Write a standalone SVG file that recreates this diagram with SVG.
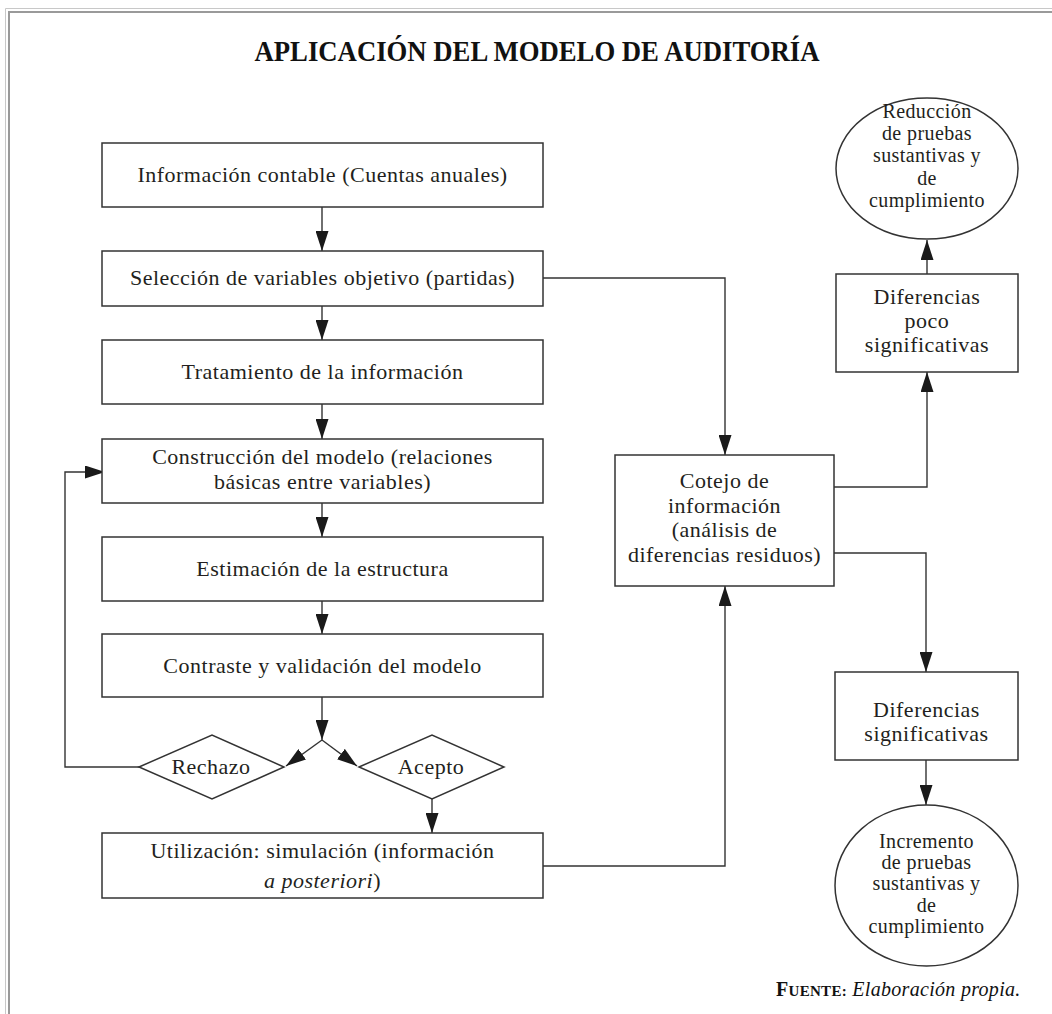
<svg xmlns="http://www.w3.org/2000/svg" width="1052" height="1014" viewBox="0 0 1052 1014">
<defs>
<marker id="ah" markerUnits="userSpaceOnUse" markerWidth="20" markerHeight="13" refX="20" refY="6.5" orient="auto">
<path d="M0,0 L20,6.5 L0,13 z" fill="#1a1a1a"/>
</marker>
<style>
.box{fill:#fff;stroke:#333;stroke-width:1.5}
.t{font-family:"Liberation Serif","Times New Roman",serif;font-size:22px;fill:#231f20;text-anchor:middle;letter-spacing:0.5px}
.c{font-family:"Liberation Serif","Times New Roman",serif;font-size:20px;fill:#231f20;text-anchor:middle;letter-spacing:0.4px}
.ln{fill:none;stroke:#333;stroke-width:1.4;marker-end:url(#ah)}
</style>
</defs>
<rect width="1052" height="1014" fill="#fff"/>
<g id="border">
<path d="M5.5,1014 V8.5 H1052" fill="none" stroke="#c8c8c8" stroke-width="1"/>
<path d="M9,1014 V12 H1052" fill="none" stroke="#9a9a9a" stroke-width="2"/>
</g>
<text x="537" y="61" font-family="Liberation Serif,'Times New Roman',serif" font-size="29" font-weight="bold" text-anchor="middle" fill="#111" textLength="565" lengthAdjust="spacingAndGlyphs">APLICACIÓN DEL MODELO DE AUDITORÍA</text>

<g id="connectors">
<path class="ln" d="M322,207 V251"/>
<path class="ln" d="M322,306 V340"/>
<path class="ln" d="M322,404 V439"/>
<path class="ln" d="M322,503 V537"/>
<path class="ln" d="M322,601 V634"/>
<path class="ln" d="M322,697 V740"/>
<path class="ln" d="M322,740 L286,766"/>
<path class="ln" d="M322,740 L357,766"/>
<path class="ln" d="M432,799 V833"/>
<path class="ln" d="M139,767 H65 V472 H105"/>
<path class="ln" d="M543,278 H725 V455"/>
<path class="ln" d="M543,866 H725 V586"/>
<path class="ln" d="M834,487 H927 V372"/>
<path class="ln" d="M927,274 V240"/>
<path class="ln" d="M834,553 H926 V672"/>
<path class="ln" d="M926,760 V805"/>
</g>

<g id="n1"><rect class="box" x="102" y="143" width="441" height="64"/><text class="t" x="322.5" y="182">Información contable (Cuentas anuales)</text></g>
<g id="n2"><rect class="box" x="102" y="251" width="441" height="55"/><text class="t" x="322.5" y="285">Selección de variables objetivo (partidas)</text></g>
<g id="n3"><rect class="box" x="102" y="340" width="441" height="64"/><text class="t" x="322.5" y="379">Tratamiento de la información</text></g>
<g id="n4"><rect class="box" x="102" y="439" width="441" height="64"/><text class="t" x="322.5" y="464">Construcción del modelo (relaciones</text><text class="t" x="322.5" y="489">básicas entre variables)</text></g>
<g id="n5"><rect class="box" x="102" y="537" width="441" height="64"/><text class="t" x="322.5" y="576">Estimación de la estructura</text></g>
<g id="n6"><rect class="box" x="102" y="634" width="441" height="63"/><text class="t" x="322.5" y="673">Contraste y validación del modelo</text></g>
<g id="rechazo"><polygon class="box" points="139,767 212,735 284,767 212,799" stroke-width="1.3"/><text class="t" x="211" y="774">Rechazo</text></g>
<g id="acepto"><polygon class="box" points="359,767 432,735 504,767 432,799" stroke-width="1.3"/><text class="t" x="431" y="774">Acepto</text></g>
<g id="n7"><rect class="box" x="102" y="833" width="441" height="65"/><text class="t" x="322.5" y="858">Utilización: simulación (información</text><text class="t" x="322.5" y="888"><tspan font-style="italic">a posteriori</tspan>)</text></g>
<g id="cotejo"><rect class="box" x="615" y="455" width="219" height="131"/>
<text class="t" x="724.5" y="488">Cotejo de</text><text class="t" x="724.5" y="513">información</text><text class="t" x="724.5" y="537">(análisis de</text><text class="t" x="724.5" y="562">diferencias residuos)</text></g>
<g id="poco"><rect class="box" x="836" y="274" width="182" height="98"/>
<text class="t" x="927" y="304">Diferencias</text><text class="t" x="927" y="328">poco</text><text class="t" x="927" y="352">significativas</text></g>
<g id="reduccion"><ellipse class="box" cx="927" cy="168.5" rx="91" ry="70.5" stroke-width="1.3"/>
<text class="c" x="927" y="118">Reducción</text><text class="c" x="927" y="140">de pruebas</text><text class="c" x="927" y="162">sustantivas y</text><text class="c" x="927" y="185">de</text><text class="c" x="927" y="207">cumplimiento</text></g>
<g id="signif"><rect class="box" x="835" y="672" width="183" height="88"/>
<text class="t" x="926.5" y="717">Diferencias</text><text class="t" x="926.5" y="741">significativas</text></g>
<g id="incremento"><ellipse class="box" cx="926.5" cy="885.5" rx="91.5" ry="80.5" stroke-width="1.3"/>
<text class="c" x="926.5" y="848">Incremento</text><text class="c" x="926.5" y="869">de pruebas</text><text class="c" x="926.5" y="890">sustantivas y</text><text class="c" x="926.5" y="912">de</text><text class="c" x="926.5" y="933">cumplimiento</text></g>
<text x="776" y="996" font-family="Liberation Serif,'Times New Roman',serif" fill="#111" letter-spacing="0.3"><tspan font-weight="bold" font-size="20">F</tspan><tspan font-weight="bold" font-size="15">UENTE:</tspan><tspan font-style="italic" font-size="20"> Elaboración propia.</tspan></text>
</svg>
